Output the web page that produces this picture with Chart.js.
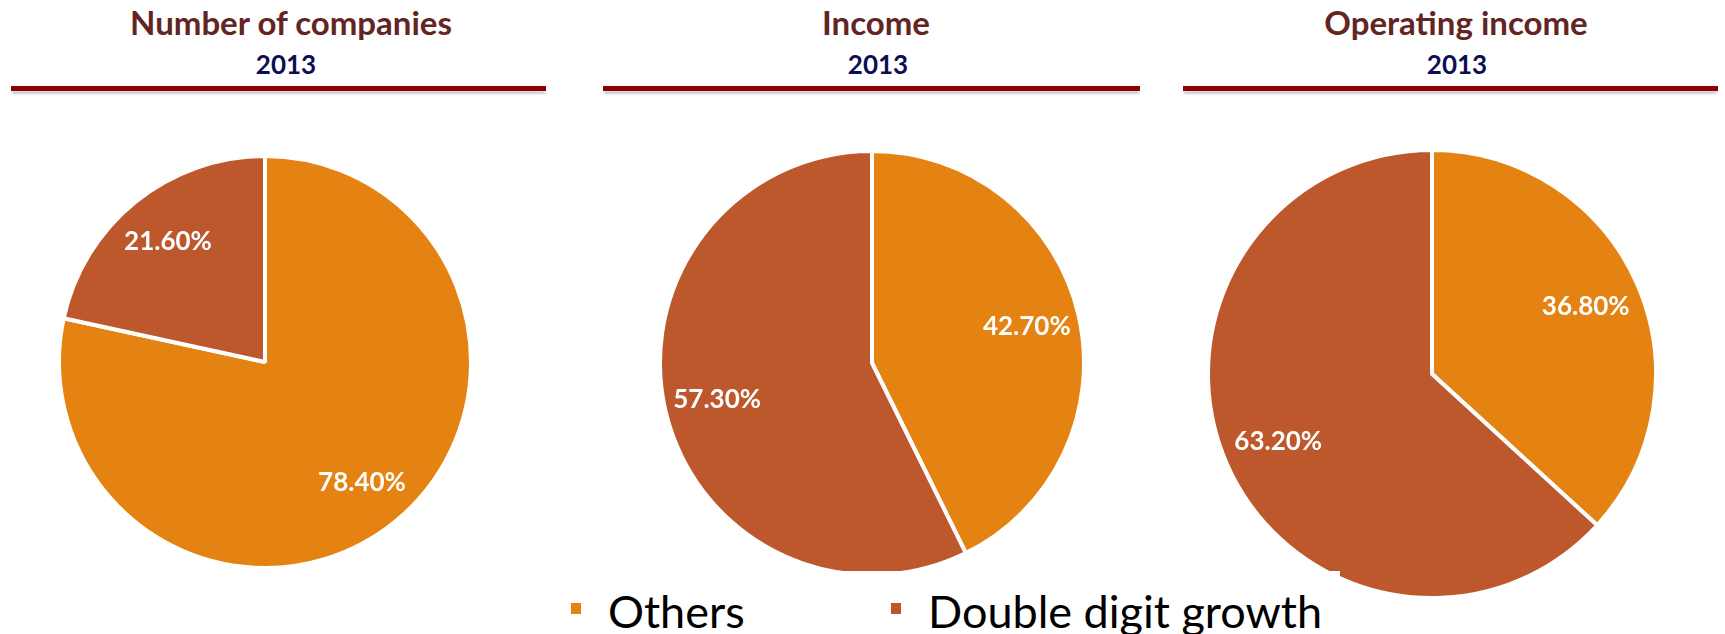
<!DOCTYPE html>
<html>
<head>
<meta charset="utf-8">
<script src="https://cdn.jsdelivr.net/npm/chart.js@4"></script>
<style>
  body { margin: 0; background: #fff; width: 1725px; height: 634px; overflow: hidden; position: relative; font-family: Lato, "Open Sans", sans-serif; }
  .title { position: absolute; width: 600px; text-align: center; font-weight: bold; font-size: 33px; line-height: 33px; color: #632523; top: 6px; white-space: nowrap; }
  .year { position: absolute; width: 200px; text-align: center; font-weight: bold; font-size: 26px; line-height: 26px; color: #0d0d56; top: 51px; }
  .rule { position: absolute; top: 86px; height: 5px; background: #8b0000; box-shadow: 0 4px 2px -1px #cfcfcf; }
  .pie { position: absolute; }
  #legend { position: absolute; left: 545px; top: 571px; width: 795px; height: 63px; background: #fff; z-index: 2; }
  .item { position: absolute; top: 18px; font-size: 45px; line-height: 45px; color: #000; white-space: nowrap; }
  .swatch { position: absolute; width: 10px; height: 11px; }
</style>
</head>
<body>

<div class="title" style="left:-9px">Number of companies</div>
<div class="year" style="left:186px">2013</div>
<div class="rule" style="left:11px;width:535px"></div>

<div class="title" style="left:576px">Income</div>
<div class="year" style="left:778px">2013</div>
<div class="rule" style="left:603px;width:537px"></div>

<div class="title" style="left:1156px">Operating income</div>
<div class="year" style="left:1357px">2013</div>
<div class="rule" style="left:1183px;width:535px"></div>

<div class="pie" style="left:57px;top:154px;width:416px;height:416px"><canvas id="chart1"></canvas></div>
<div class="pie" style="left:658px;top:149px;width:428px;height:428px"><canvas id="chart2"></canvas></div>
<div class="pie" style="left:1206px;top:148px;width:452px;height:452px"><canvas id="chart3"></canvas></div>

<div id="legend"></div>

<script>
// shares in 2013, percent
const categories = ['Others', 'Double digit growth'];
const companiesShare = [78.4, 21.6];
const incomeShare = [42.7, 57.3];
const operatingShare = [36.8, 63.2];
const sliceColors = ['#e48312', '#bd582c'];

// white percentage text inside each slice
const pctLabels = {
  id: 'pctLabels',
  afterDatasetsDraw(chart) {
    const ctx = chart.ctx;
    const values = chart.data.datasets[0].data;
    const meta = chart.getDatasetMeta(0);
    ctx.save();
    ctx.font = 'bold 26px Lato, sans-serif';
    ctx.fillStyle = '#fff';
    ctx.textAlign = 'center';
    ctx.textBaseline = 'middle';
    meta.data.forEach((arc, i) => {
      const p = arc.getProps(['x', 'y', 'startAngle', 'endAngle', 'outerRadius'], true);
      const mid = (p.startAngle + p.endAngle) / 2;
      const r = p.outerRadius * 0.75;
      ctx.fillText(values[i].toFixed(2) + '%', p.x + Math.cos(mid) * r, p.y + Math.sin(mid) * r);
    });
    ctx.restore();
  }
};

function makePie(id, values) {
  const ctx = document.getElementById(id).getContext('2d');
  return new Chart(ctx, {
    type: 'pie',
    data: {
      labels: categories,
      datasets: [{
        data: values,
        backgroundColor: sliceColors,
        borderColor: '#fff',
        borderWidth: 4
      }]
    },
    options: {
      responsive: true,
      maintainAspectRatio: false,
      animation: false,
      layout: { padding: 0 },
      plugins: {
        legend: { display: false },
        tooltip: { enabled: false }
      }
    },
    plugins: [pctLabels]
  });
}

makePie('chart1', companiesShare);
makePie('chart2', incomeShare);
makePie('chart3', operatingShare);

// shared legend under the pies
const legend = document.getElementById('legend');
const itemLeft = [26, 346];
categories.forEach((name, i) => {
  const sw = document.createElement('div');
  sw.className = 'swatch';
  sw.style.left = itemLeft[i] + 'px';
  sw.style.top = '32px';
  sw.style.background = sliceColors[i];
  legend.appendChild(sw);
  const tx = document.createElement('div');
  tx.className = 'item';
  tx.style.left = (itemLeft[i] + 37) + 'px';
  tx.textContent = name;
  legend.appendChild(tx);
});
</script>
</body>
</html>
